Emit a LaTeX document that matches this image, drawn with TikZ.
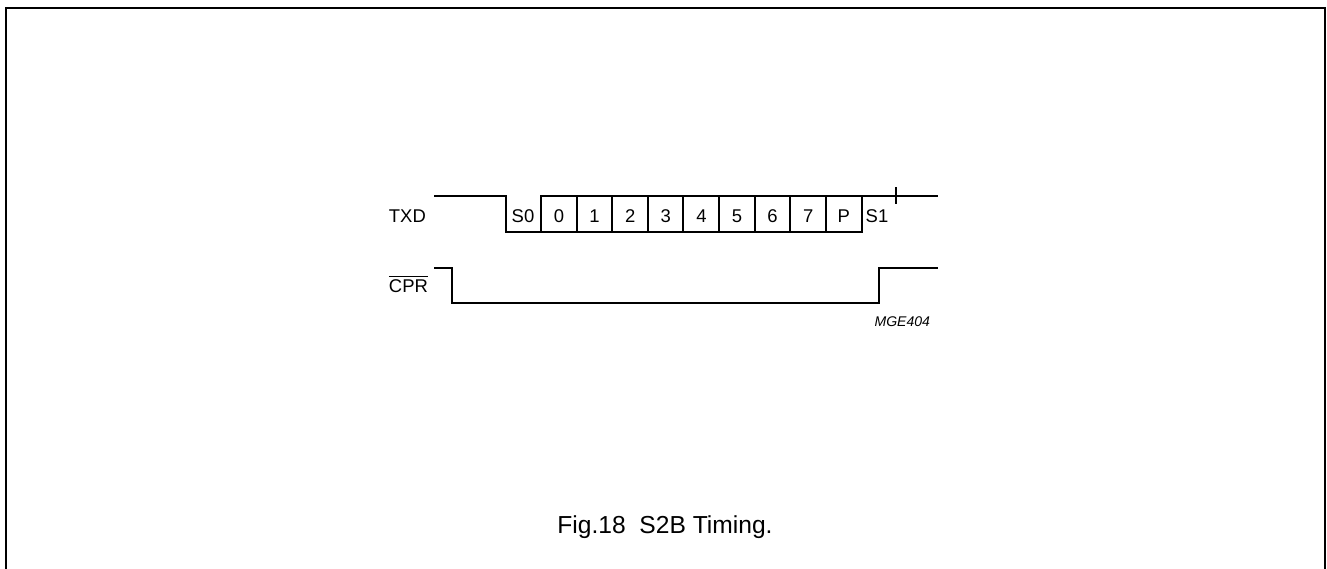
\documentclass[tikz,border=0pt]{standalone}
\usepackage{fontspec}
\setmainfont{Liberation Sans}
\begin{document}
\begin{tikzpicture}[x=0.02cm,y=-0.02cm,line join=miter,line width=1.1pt]
	\tikzset{sig label/.style={font=\fontsize{10.5}{12}\selectfont,anchor=base west,inner sep=0pt},
		bit label/.style={font=\fontsize{10.5}{12}\selectfont,anchor=base,inner sep=0pt}}
	\useasboundingbox (0,0) rectangle (1327,568);
	% frame
	\draw[line width=0.9pt] (6,600) |- (1325,8) -- (1325,600);
	% TXD
	\node[sig label] (txd) at (388,222) {TXD};
	\draw (434,196) -- (506,196) -- (506,232) -- (862,232) -- (862,196);
	\draw (541,232) -- (541,196) -- (938,196);
	\foreach \i in {1,...,8}
		\draw (541+35.6*\i,196) -- ++(0,36);
	\node[bit label] (s0) at (523,222) {S0};
	\foreach \b [count=\i from 0] in {0,1,2,3,4,5,6,7,P}
		\node[bit label] (bit\i) at (559+35.6*\i,222) {\b};
	\node[bit label] (s1) at (877,222) {S1};
	\draw[line width=0.6pt] (896,187) -- (896,204);
	% CPR
	\node[sig label] (cpr) at (388,292) {$\overline{\mbox{CPR}}$};
	\draw (434,268) -- (452,268) -- (452,303) -- (879,303) -- (879,268) -- (938,268);
	\node[anchor=base east,inner sep=0pt,font=\fontsize{8}{10}\selectfont\itshape] (code) at (931,326) {MGE404};
	% caption
	\node[anchor=base,inner sep=0pt,font=\fontsize{14}{16}\selectfont] (caption) at (665,533) {Fig.18\ \ S2B Timing.};
\end{tikzpicture}
\end{document}
